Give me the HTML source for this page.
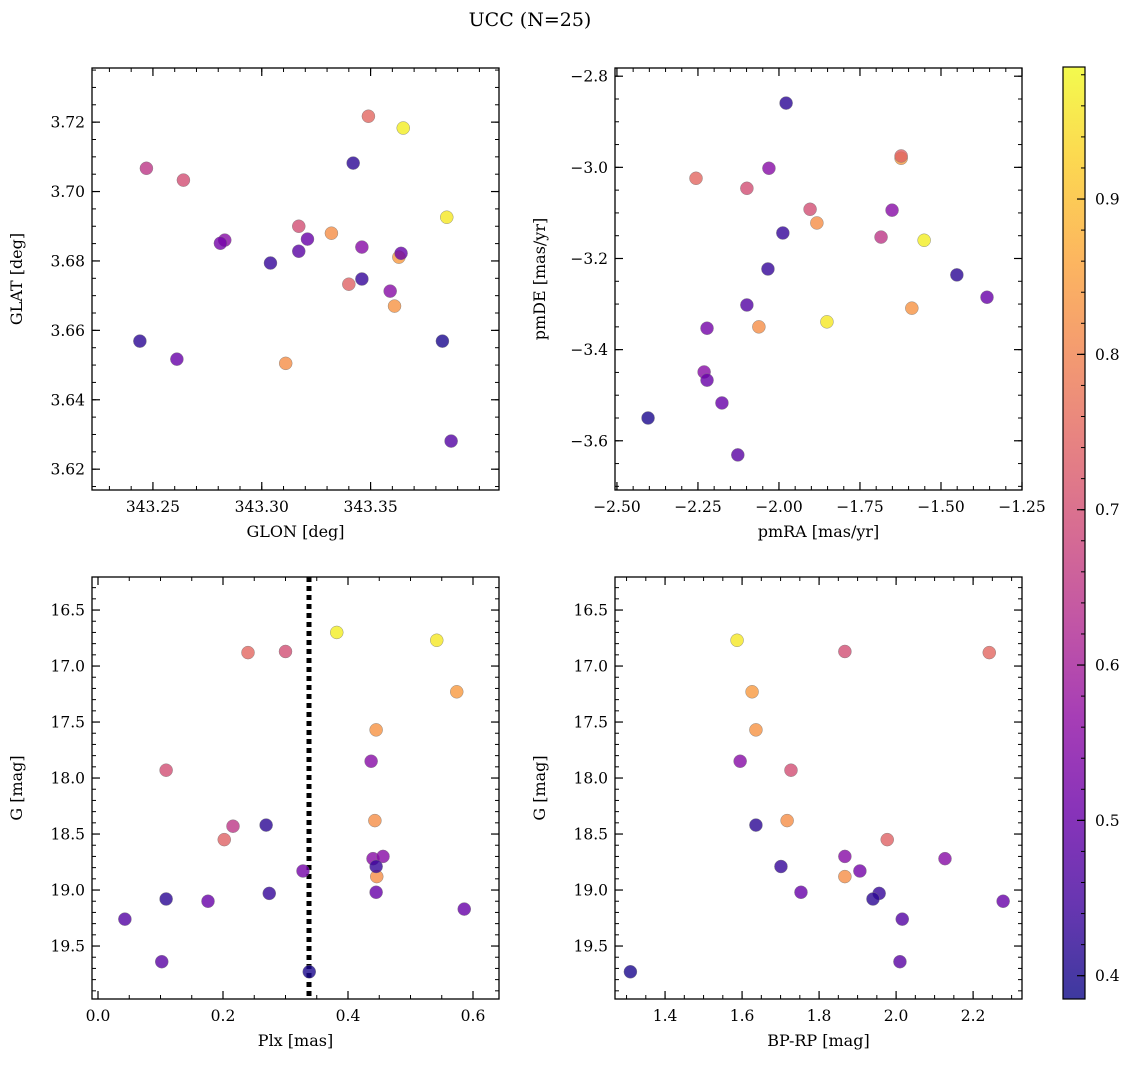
<!DOCTYPE html>
<html><head><meta charset="utf-8">
<style>
html,body{margin:0;padding:0;background:#fff;}
svg{display:block;font-family:"DejaVu Serif","Liberation Serif",serif;}
</style></head>
<body>
<svg id="fig" width="1136" height="1067" viewBox="0 0 1136 1067" xmlns="http://www.w3.org/2000/svg">
<text x="530" y="26" font-size="19" text-anchor="middle">UCC (N=25)</text>
</svg>
<script>
const prob = [0.97,0.96,0.75,0.70,0.84,0.83,0.70,0.55,0.65,0.42,0.74,0.82,0.55,0.55,0.82,0.43,0.52,0.43,0.50,0.42,0.50,0.50,0.47,0.48,0.40];
const glon = [343.365,343.385,343.349,343.264,343.363,343.361,343.317,343.346,343.247,343.342,343.340,343.332,343.283,343.359,343.311,343.346,343.281,343.304,343.321,343.244,343.364,343.261,343.387,343.317,343.383];
const glat = [3.7183,3.6926,3.7217,3.7033,3.6811,3.6670,3.6900,3.6840,3.7067,3.7082,3.6733,3.6880,3.6860,3.6713,3.6505,3.6748,3.6851,3.6794,3.6863,3.6569,3.6822,3.6517,3.6281,3.6828,3.6569];
const pmra = [-1.552,-1.852,-2.256,-2.099,-1.623,-1.590,-1.904,-1.651,-1.685,-1.978,-1.623,-1.883,-2.031,-2.231,-2.062,-1.988,-2.222,-2.034,-2.222,-1.451,-2.176,-1.358,-2.099,-2.127,-2.404];
const pmde = [-3.160,-3.339,-3.024,-3.046,-2.980,-3.309,-3.092,-3.094,-3.153,-2.859,-2.975,-3.122,-3.002,-3.449,-3.350,-3.144,-3.353,-3.223,-3.467,-3.236,-3.517,-3.285,-3.302,-3.631,-3.550];
const plx = [0.382,0.542,0.240,0.300,0.574,0.445,0.109,0.437,0.216,0.269,0.202,0.443,0.440,0.456,0.446,0.445,0.328,0.274,0.445,0.109,0.176,0.586,0.043,0.102,0.338];
const gmag = [16.70,16.77,16.88,16.87,17.23,17.57,17.93,17.85,18.43,18.42,18.55,18.38,18.72,18.70,18.88,18.79,18.83,19.03,19.02,19.08,19.10,19.17,19.26,19.64,19.73];
const bprp = [null,1.587,2.242,1.867,1.626,1.636,1.727,1.595,null,1.636,1.977,1.717,2.127,1.867,1.867,1.701,1.906,1.956,1.753,1.940,2.278,null,2.016,2.010,1.310];
const plxLine = 0.3376;
const cbTicks = [0.4,0.5,0.6,0.7,0.8,0.9];
const NS="http://www.w3.org/2000/svg";
const svg=document.getElementById('fig');
function el(t,a,p){const e=document.createElementNS(NS,t);for(const k in a)e.setAttribute(k,a[k]);(p||svg).appendChild(e);return e;}
const stops=[[13,8,135],[65,4,157],[106,0,168],[143,13,164],[177,42,144],[204,71,120],[225,100,98],[242,132,75],[252,166,54],[252,206,37],[240,249,33]];
const cmin=0.385,cmax=0.985;
function cmap(v){let t=Math.max(0,Math.min(1,(v-cmin)/(cmax-cmin)))*10;let i=Math.min(9,Math.floor(t)),f=t-i;const a=stops[i],b=stops[i+1];return `rgb(${a.map((c,k)=>Math.round(c+(b[k]-c)*f)).join(',')})`;}
function fmt(v,d){let s=v.toFixed(d);if(v<0)s='\u2212'+s.slice(1);return s;}
const panels=[
 {name:'glon-glat',x0:92,x1:499,y0:68,y1:490,xd:[343.222,343.409],yd:[3.7356,3.6140],xt:[343.25,343.30,343.35],xm:0.01,xdec:2,yt:[3.62,3.64,3.66,3.68,3.70,3.72],ym:0.005,ydec:2,xl:'GLON [deg]',yl:'GLAT [deg]',xs:glon,ys:glat},
 {name:'pmra-pmde',x0:615,x1:1022,y0:68,y1:490,xd:[-2.506,-1.25],yd:[-2.782,-3.708],xt:[-2.5,-2.25,-2.0,-1.75,-1.5,-1.25],xm:0.05,xdec:2,yt:[-3.6,-3.4,-3.2,-3.0,-2.8],ym:0.05,ydec:1,xl:'pmRA [mas/yr]',yl:'pmDE [mas/yr]',xs:pmra,ys:pmde},
 {name:'plx-g',x0:92,x1:499,y0:577,y1:999,xd:[-0.0096,0.6416],yd:[16.205,19.973],xt:[0,0.2,0.4,0.6],xm:0.05,xdec:1,yt:[16.5,17,17.5,18,18.5,19,19.5],ym:0.1,ydec:1,xl:'Plx [mas]',yl:'G [mag]',xs:plx,ys:gmag,vline:plxLine},
 {name:'bprp-g',x0:615,x1:1022,y0:577,y1:999,xd:[1.270,2.327],yd:[16.205,19.973],xt:[1.4,1.6,1.8,2.0,2.2],xm:0.05,xdec:1,yt:[16.5,17,17.5,18,18.5,19,19.5],ym:0.1,ydec:1,xl:'BP-RP [mag]',yl:'G [mag]',xs:bprp,ys:gmag}
];
panels.forEach(P=>{
 const g=el('g',{});
 
 
 const sx=v=>P.x0+(v-P.xd[0])/(P.xd[1]-P.xd[0])*(P.x1-P.x0);
 const sy=v=>P.y0+(v-P.yd[0])/(P.yd[1]-P.yd[0])*(P.y1-P.y0);
 const xlo=Math.min(...P.xd),xhi=Math.max(...P.xd),ylo=Math.min(...P.yd),yhi=Math.max(...P.yd);
 for(let v=Math.ceil(xlo/P.xm-1e-6)*P.xm;v<=xhi;v+=P.xm){const x=sx(v);el('line',{x1:x,x2:x,y1:P.y1,y2:P.y1-4,stroke:'#000','stroke-width':1},g);el('line',{x1:x,x2:x,y1:P.y0,y2:P.y0+4,stroke:'#000','stroke-width':1},g);}
 for(let v=Math.ceil(ylo/P.ym-1e-6)*P.ym;v<=yhi;v+=P.ym){const y=sy(v);el('line',{x1:P.x0,x2:P.x0+4,y1:y,y2:y,stroke:'#000','stroke-width':1},g);el('line',{x1:P.x1,x2:P.x1-4,y1:y,y2:y,stroke:'#000','stroke-width':1},g);}
 P.xt.forEach(v=>{const x=sx(v);el('line',{x1:x,x2:x,y1:P.y1,y2:P.y1-8,stroke:'#000','stroke-width':1.2},g);el('line',{x1:x,x2:x,y1:P.y0,y2:P.y0+8,stroke:'#000','stroke-width':1.2},g);
  const t=el('text',{x:x,y:P.y1+22,'font-size':15.5,'text-anchor':'middle'},g);t.textContent=fmt(v,P.xdec);
  });
 P.yt.forEach(v=>{const y=sy(v);el('line',{x1:P.x0,x2:P.x0+8,y1:y,y2:y,stroke:'#000','stroke-width':1.2},g);el('line',{x1:P.x1,x2:P.x1-8,y1:y,y2:y,stroke:'#000','stroke-width':1.2},g);
  const t=el('text',{x:P.x0-7,y:y+5.5,'font-size':15.5,'text-anchor':'end'},g);t.textContent=fmt(v,P.ydec);
  });
 if(P.vline!==undefined){const x=sx(P.vline);const l=el('line',{x1:x,x2:x,y1:P.y0,y2:P.y1,stroke:'#000','stroke-width':5,'stroke-dasharray':'5,4'},g);
  }
 P.xs.forEach((xv,i)=>{if(xv===null)return;const c=el('circle',{cx:sx(xv),cy:sy(P.ys[i]),r:6.5,fill:cmap(prob[i]),'fill-opacity':0.8,stroke:'#777','stroke-width':0.4},g);
  });
 el('rect',{x:P.x0,y:P.y0,width:P.x1-P.x0,height:P.y1-P.y0,fill:'none',stroke:'#000','stroke-width':1.3},g);
 const xl=el('text',{x:(P.x0+P.x1)/2,y:P.y1+47,'font-size':16,'text-anchor':'middle'},g);xl.textContent=P.xl;
 
 const yx=P.x0-70,yy=(P.y0+P.y1)/2;
 const yl=el('text',{x:yx,y:yy,'font-size':16,'text-anchor':'middle',transform:`rotate(-90 ${yx} ${yy})`},g);yl.textContent=P.yl;
 
});
const cb=el('g',{});


const cx0=1063,cx1=1085,cy0=67,cy1=999;
const defs=el('defs',{},cb);const lg=el('linearGradient',{id:'cbg',x1:0,y1:1,x2:0,y2:0},defs);
stops.forEach((s,i)=>el('stop',{offset:i/10,'stop-color':`rgb(${s.join(',')})`},lg));
el('rect',{x:cx0,y:cy0,width:cx1-cx0,height:cy1-cy0,fill:'url(#cbg)','fill-opacity':0.8},cb);
el('rect',{x:cx0,y:cy0,width:cx1-cx0,height:cy1-cy0,fill:'none',stroke:'#000','stroke-width':1.2},cb);
const cy=v=>cy1-(v-cmin)/(cmax-cmin)*(cy1-cy0);
for(let v=0.4;v<=cmax;v+=0.02){const y=cy(v);el('line',{x1:cx1,x2:cx1-4,y1:y,y2:y,stroke:'#000','stroke-width':1},cb);}
cbTicks.forEach(v=>{const y=cy(v);el('line',{x1:cx1,x2:cx1-8,y1:y,y2:y,stroke:'#000','stroke-width':1.2},cb);
 const t=el('text',{x:cx1+10,y:y+5.5,'font-size':15.5},cb);t.textContent=v.toFixed(1);
 });
</script>
</body></html>
